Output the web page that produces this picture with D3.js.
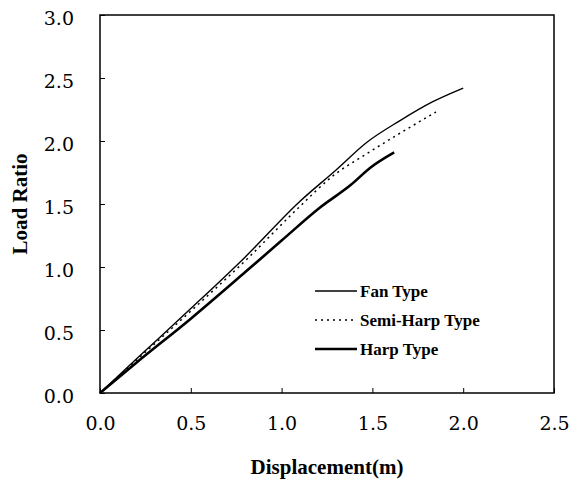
<!DOCTYPE html>
<html>
<head>
<meta charset="utf-8">
<script src="https://cdn.jsdelivr.net/npm/d3@7"></script>
<style>
  body { margin: 0; background: #fff; }
  svg { display: block; }
  .serif { font-family: "DejaVu Serif", serif; }
  .bold { font-family: "Liberation Serif", serif; font-weight: bold; }
</style>
</head>
<body>
<svg id="svg" width="569" height="484"></svg>
<script>
// DATA
const xTicks = [0, 0.5, 1.0, 1.5, 2.0, 2.5];
const yTicks = [0, 0.5, 1.0, 1.5, 2.0, 2.5, 3.0];
const seriesNames = ["Fan Type", "Semi-Harp Type", "Harp Type"];
const fanType = [[0, 0], [0.2, 0.27], [0.5, 0.67], [0.8, 1.08], [1.1, 1.52], [1.3, 1.77], [1.47, 1.99], [1.65, 2.16], [1.83, 2.31], [2.0, 2.42]];
const semiHarpType = [[0, 0], [0.2, 0.26], [0.5, 0.65], [0.8, 1.05], [1.1, 1.48], [1.28, 1.72], [1.47, 1.9], [1.65, 2.06], [1.85, 2.23]];
const harpType = [[0, 0], [0.2, 0.24], [0.5, 0.59], [0.8, 0.96], [1.0, 1.21], [1.21, 1.47], [1.38, 1.65], [1.49, 1.79], [1.62, 1.91]];

// LAYOUT
const margin = { top: 15, right: 15, bottom: 91, left: 100 };
const width = 569 - margin.left - margin.right;
const height = 484 - margin.top - margin.bottom;

const x = d3.scaleLinear().domain([0, 2.5]).range([0, width]);
const y = d3.scaleLinear().domain([0, 3.0]).range([height, 0]);
const fmt = d3.format(".1f");

const svg = d3.select("#svg");
const g = svg.append("g").attr("transform", `translate(${margin.left},${margin.top})`);

// frame
g.append("rect")
  .attr("width", width)
  .attr("height", height)
  .attr("fill", "none")
  .attr("stroke", "#000")
  .attr("stroke-width", 1.5);

// axes, ticks pointing inward
const xAxis = g.append("g")
  .attr("transform", `translate(0,${height})`)
  .call(d3.axisBottom(x).tickValues(xTicks).tickFormat(fmt).tickSize(-5).tickPadding(24));
const yAxis = g.append("g")
  .call(d3.axisLeft(y).tickValues(yTicks).tickFormat(fmt).tickSize(-5).tickPadding(26));

[xAxis, yAxis].forEach(a => {
  a.attr("font-family", null).attr("font-size", null);
  a.select(".domain").remove();
  a.selectAll("text")
    .attr("class", "serif")
    .style("font-size", "19px")
    .attr("fill", "#000");
  a.selectAll("line").attr("stroke", "#000");
});
xAxis.selectAll("text").attr("dy", "0.71em");
yAxis.selectAll("text").attr("dy", "0.5em");

// series
const line = d3.line().x(d => x(d[0])).y(d => y(d[1])).curve(d3.curveMonotoneX);
const styles = [
  { data: fanType, width: 1.4, dash: null },
  { data: semiHarpType, width: 1.5, dash: "2,4" },
  { data: harpType, width: 2.6, dash: null }
];

g.append("g")
  .selectAll("path")
  .data(styles)
  .enter()
  .append("path")
  .attr("d", d => line(d.data))
  .attr("fill", "none")
  .attr("stroke", "#000")
  .attr("stroke-width", d => d.width)
  .attr("stroke-dasharray", d => d.dash);

// legend
const legend = g.append("g").attr("transform", "translate(215,276)");
const rows = legend.selectAll("g")
  .data(styles)
  .enter()
  .append("g")
  .attr("transform", (d, i) => `translate(0,${i * 29})`);
rows.append("line")
  .attr("x1", 0).attr("x2", 42)
  .attr("stroke", "#000")
  .attr("stroke-width", d => d.width)
  .attr("stroke-dasharray", d => d.dash);
rows.append("text")
  .attr("class", "bold")
  .attr("x", 45)
  .attr("dy", "0.35em")
  .style("font-size", "17px")
  .text((d, i) => seriesNames[i]);

// axis titles
svg.append("text")
  .attr("class", "bold")
  .attr("x", margin.left + width / 2)
  .attr("y", 474)
  .attr("text-anchor", "middle")
  .style("font-size", "21px")
  .text("Displacement(m)");

svg.append("text")
  .attr("class", "bold")
  .attr("transform", `translate(27,${margin.top + height / 2}) rotate(-90)`)
  .attr("text-anchor", "middle")
  .style("font-size", "21px")
  .text("Load Ratio");
</script>
</body>
</html>
